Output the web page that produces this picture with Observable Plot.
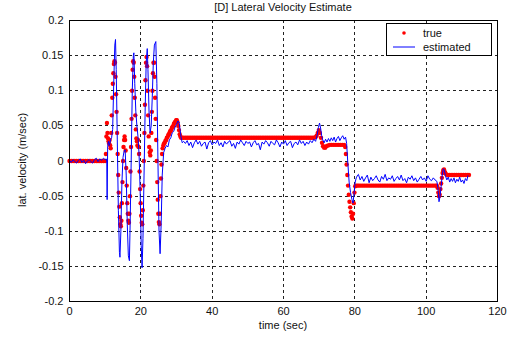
<!DOCTYPE html>
<html>
<head>
<meta charset="utf-8">
<script src="https://cdn.jsdelivr.net/npm/d3@7"></script>
<script src="https://cdn.jsdelivr.net/npm/@observablehq/plot@0.6"></script>
<style>
  html, body { margin: 0; padding: 0; background: #fff; }
  svg { display: block; }
</style>
</head>
<body>
<script>
// ---------- Data ----------
const titleText = "[D] Lateral Velocity Estimate";
const xLabel = "time (sec)";
const yLabel = "lat. velocity (m/sec)";
const xTicks = [0, 20, 40, 60, 80, 100, 120];
const yTicks = [-0.2, -0.15, -0.1, -0.05, 0, 0.05, 0.1, 0.15, 0.2];
const seriesNames = ["true", "estimated"];

// estimated (blue line) : [time, value]
const estQuiet = [[0,0.001],[0.5,-0.002],[1,0.002],[1.5,-0.001],[2,-0.003],[2.5,0.001],[3,0.003],[3.5,-0.002],[4,0.001],[4.5,-0.004],[5,0.0],[5.5,0.002],[6,-0.001],[6.5,-0.003],[7,0.002],[7.5,0.004],[8,-0.001],[8.5,0.003],[9,0.001],[9.5,0.004],[10,0.002],[10.3,0.003]];
const estManeuver = [[10.45,0.0],[10.55,-0.055],[10.7,0.02],[10.9,0.028],[11.2,0.022],[11.5,0.03],[11.8,0.033],[12.1,0.045],[12.4,0.11],[12.7,0.165],[12.9,0.173],[13.1,0.13],[13.4,0.03],[13.7,-0.07],[14.0,-0.13],[14.15,-0.137],[14.4,-0.1],[14.7,-0.03],[15.0,0.005],[15.3,0.014],[15.6,0.016],[15.9,-0.02],[16.2,-0.09],[16.5,-0.135],[16.8,-0.142],[17.0,-0.09],[17.3,0.0],[17.6,0.1],[17.9,0.15],[18.05,0.154],[18.3,0.11],[18.6,0.07],[18.9,0.05],[19.2,0.035],[19.5,0.01],[19.8,-0.04],[20.1,-0.12],[20.35,-0.152],[20.6,-0.11],[20.9,-0.02],[21.2,0.07],[21.5,0.14],[21.8,0.16],[22.0,0.13],[22.3,0.07],[22.6,0.04],[22.9,0.05],[23.2,0.09],[23.5,0.14],[23.8,0.165],[24.2,0.17],[24.5,0.11],[24.8,0.0],[25.1,-0.1],[25.4,-0.132],[25.7,-0.09],[26.0,-0.02],[26.4,0.012],[26.8,0.018],[27.2,0.022],[27.6,0.02],[28.0,0.03],[28.4,0.033],[28.8,0.04],[29.2,0.042],[29.6,0.048],[30.0,0.052],[30.4,0.057],[30.7,0.055],[31.0,0.045],[31.3,0.033],[31.6,0.026],[32.0,0.028]];
const estCruise = [[32.5,0.025],[33,0.029],[33.5,0.022],[34,0.027],[34.5,0.019],[35,0.026],[35.5,0.03],[36,0.024],[36.5,0.028],[37,0.021],[37.5,0.025],[38,0.027],[38.5,0.017],[39,0.026],[39.5,0.029],[40,0.023],[40.5,0.027],[41,0.025],[41.5,0.03],[42,0.022],[42.5,0.026],[43,0.02],[43.5,0.028],[44,0.024],[44.5,0.027],[45,0.029],[45.5,0.021],[46,0.025],[46.5,0.018],[47,0.027],[47.5,0.024],[48,0.03],[48.5,0.026],[49,0.022],[49.5,0.028],[50,0.025],[50.5,0.027],[51,0.02],[51.5,0.026],[52,0.029],[52.5,0.023],[53,0.025],[53.5,0.016],[54,0.027],[54.5,0.024],[55,0.029],[55.5,0.026],[56,0.021],[56.5,0.028],[57,0.025],[57.5,0.023],[58,0.03],[58.5,0.026],[59,0.02],[59.5,0.027],[60,0.024],[60.5,0.029],[61,0.022],[61.5,0.026],[62,0.028],[62.5,0.019],[63,0.025],[63.5,0.027],[64,0.023],[64.5,0.03],[65,0.025],[65.5,0.028],[66,0.022],[66.5,0.027],[67,0.024],[67.5,0.029],[68,0.026],[68.5,0.031],[69,0.028]];
const estStep = [[69.4,0.036],[69.8,0.048],[70.1,0.054],[70.4,0.047],[70.7,0.036],[71.0,0.03],[71.4,0.026],[71.8,0.031],[72.2,0.027],[72.6,0.032],[73.0,0.028],[73.4,0.033],[73.8,0.029],[74.2,0.034],[74.6,0.027],[75.0,0.032],[75.4,0.035],[75.8,0.029],[76.2,0.033],[76.6,0.036],[77.0,0.031],[77.4,0.034],[77.7,0.025],[78.0,0.0],[78.4,-0.03],[78.8,-0.045],[79.2,-0.055],[79.5,-0.06],[79.8,-0.045],[80.1,-0.03],[80.4,-0.024],[80.8,-0.02]];
const estLow = [[81,-0.019],[81.5,-0.027],[82,-0.022],[82.5,-0.029],[83,-0.024],[83.5,-0.02],[84,-0.031],[84.5,-0.023],[85,-0.028],[85.5,-0.025],[86,-0.021],[86.5,-0.027],[87,-0.03],[87.5,-0.022],[88,-0.026],[88.5,-0.019],[89,-0.028],[89.5,-0.024],[90,-0.026],[90.5,-0.021],[91,-0.029],[91.5,-0.025],[92,-0.022],[92.5,-0.027],[93,-0.02],[93.5,-0.028],[94,-0.025],[94.5,-0.031],[95,-0.023],[95.5,-0.026],[96,-0.021],[96.5,-0.028],[97,-0.024],[97.5,-0.03],[98,-0.026],[98.5,-0.022],[99,-0.027],[99.5,-0.024],[100,-0.029],[100.5,-0.021],[101,-0.026],[101.5,-0.028],[102,-0.024],[102.5,-0.027],[103,-0.029]];
const estEnd = [[103.3,-0.038],[103.6,-0.058],[103.9,-0.05],[104.2,-0.036],[104.5,-0.02],[104.8,-0.011],[105.1,-0.013],[105.4,-0.021],[105.8,-0.027],[106.2,-0.023],[106.6,-0.03],[107.0,-0.025],[107.4,-0.029],[107.8,-0.024],[108.2,-0.031],[108.6,-0.026],[109.0,-0.029],[109.4,-0.023],[109.8,-0.03],[110.2,-0.027],[110.6,-0.032],[111.0,-0.025],[111.4,-0.028],[111.7,-0.021]];

// true (red dots) : [time, value]
const trueQuiet = [[0,0],[0.5,0],[1,0],[1.5,0],[2,0],[2.5,0],[3,0],[3.5,0],[4,0],[4.5,0],[5,0],[5.5,0],[6,0],[6.5,0],[7,0],[7.5,0],[8,0],[8.5,0],[9,0],[9.5,0],[10,0]];
const trueManeuver = [[10.2,0.01],[10.35,0.035],[10.5,0.054],[10.65,0.04],[10.8,0.032],[10.95,0.028],[11.1,0.025],[11.25,0.03],[11.4,0.022],[11.55,0.018],[11.7,0.04],[11.85,0.065],[12.0,0.09],[12.15,0.11],[12.3,0.125],[12.45,0.138],[12.6,0.142],[12.75,0.14],[12.9,0.12],[13.05,0.095],[13.2,0.07],[13.35,0.04],[13.5,0.01],[13.65,-0.02],[13.8,-0.045],[13.95,-0.065],[14.1,-0.08],[14.25,-0.09],[14.4,-0.093],[14.55,-0.085],[14.7,-0.06],[14.85,-0.03],[15.0,0.0],[15.15,0.02],[15.3,0.03],[15.45,0.035],[15.6,0.03],[15.75,0.015],[15.9,-0.01],[16.05,-0.035],[16.2,-0.06],[16.35,-0.075],[16.5,-0.085],[16.65,-0.088],[16.8,-0.075],[16.95,-0.05],[17.1,-0.015],[17.25,0.02],[17.4,0.06],[17.55,0.1],[17.7,0.13],[17.85,0.142],[18.0,0.14],[18.15,0.12],[18.3,0.09],[18.45,0.065],[18.6,0.045],[18.75,0.032],[18.9,0.028],[19.05,0.022],[19.2,0.03],[19.35,0.02],[19.5,0.01],[19.65,-0.015],[19.8,-0.04],[19.95,-0.06],[20.1,-0.078],[20.25,-0.088],[20.4,-0.09],[20.55,-0.07],[20.7,-0.035],[20.85,0.0],[21.0,0.04],[21.15,0.08],[21.3,0.115],[21.45,0.14],[21.6,0.148],[21.75,0.135],[21.9,0.1],[22.05,0.065],[22.2,0.035],[22.35,0.02],[22.5,0.012],[22.65,0.008],[22.8,0.015],[22.95,0.04],[23.1,0.07],[23.25,0.1],[23.4,0.125],[23.55,0.14],[23.7,0.14],[23.85,0.12],[24.0,0.09],[24.15,0.06],[24.3,0.03],[24.45,0.0],[24.6,-0.03],[24.75,-0.055],[24.9,-0.075],[25.05,-0.087],[25.2,-0.09],[25.35,-0.075],[25.5,-0.05],[25.65,-0.025],[25.8,-0.005],[25.95,0.01],[26.1,0.018],[26.3,0.022],[26.5,0.025],[26.7,0.026],[26.9,0.029],[27.1,0.03],[27.3,0.033],[27.5,0.034],[27.7,0.037],[27.9,0.038],[28.1,0.041],[28.3,0.043],[28.5,0.044],[28.7,0.047],[28.9,0.049],[29.1,0.05],[29.3,0.053],[29.5,0.055],[29.7,0.056],[29.9,0.058],[30.1,0.058],[30.3,0.055],[30.5,0.05],[30.7,0.044],[30.9,0.038],[31.1,0.035],[31.3,0.033],[31.5,0.033]];
const trueCruise = [[32,0.033],[32.5,0.033],[33,0.033],[33.5,0.033],[34,0.033],[34.5,0.033],[35,0.033],[35.5,0.033],[36,0.033],[36.5,0.033],[37,0.033],[37.5,0.033],[38,0.033],[38.5,0.033],[39,0.033],[39.5,0.033],[40,0.033],[40.5,0.033],[41,0.033],[41.5,0.033],[42,0.033],[42.5,0.033],[43,0.033],[43.5,0.033],[44,0.033],[44.5,0.033],[45,0.033],[45.5,0.033],[46,0.033],[46.5,0.033],[47,0.033],[47.5,0.033],[48,0.033],[48.5,0.033],[49,0.033],[49.5,0.033],[50,0.033],[50.5,0.033],[51,0.033],[51.5,0.033],[52,0.033],[52.5,0.033],[53,0.033],[53.5,0.033],[54,0.033],[54.5,0.033],[55,0.033],[55.5,0.033],[56,0.033],[56.5,0.033],[57,0.033],[57.5,0.033],[58,0.033],[58.5,0.033],[59,0.033],[59.5,0.033],[60,0.033],[60.5,0.033],[61,0.033],[61.5,0.033],[62,0.033],[62.5,0.033],[63,0.033],[63.5,0.033],[64,0.033],[64.5,0.033],[65,0.033],[65.5,0.033],[66,0.033],[66.5,0.033],[67,0.033],[67.5,0.033],[68,0.033],[68.5,0.033],[69,0.034]];
const trueStep = [[69.3,0.036],[69.6,0.04],[69.9,0.044],[70.2,0.04],[70.5,0.033],[70.8,0.026],[71.1,0.021],[71.4,0.019],[71.7,0.019],[72.0,0.021],[72.5,0.022],[73,0.023],[73.5,0.023],[74,0.023],[74.5,0.023],[75,0.023],[75.5,0.023],[76,0.023],[76.5,0.023],[77,0.023],[77.3,0.02],[77.5,0.01],[77.7,-0.005],[77.9,-0.02],[78.1,-0.035],[78.3,-0.048],[78.5,-0.058],[78.7,-0.066],[78.9,-0.073],[79.1,-0.079],[79.3,-0.082],[79.5,-0.075],[79.7,-0.06],[79.9,-0.045],[80.1,-0.036],[80.4,-0.035]];
const trueLow = [[80.8,-0.035],[81.2,-0.035],[81.7,-0.035],[82.2,-0.035],[82.7,-0.035],[83.2,-0.035],[83.7,-0.035],[84.2,-0.035],[84.7,-0.035],[85.2,-0.035],[85.7,-0.035],[86.2,-0.035],[86.7,-0.035],[87.2,-0.035],[87.7,-0.035],[88.2,-0.035],[88.7,-0.035],[89.2,-0.035],[89.7,-0.035],[90.2,-0.035],[90.7,-0.035],[91.2,-0.035],[91.7,-0.035],[92.2,-0.035],[92.7,-0.035],[93.2,-0.035],[93.7,-0.035],[94.2,-0.035],[94.7,-0.035],[95.2,-0.035],[95.7,-0.035],[96.2,-0.035],[96.7,-0.035],[97.2,-0.035],[97.7,-0.035],[98.2,-0.035],[98.7,-0.035],[99.2,-0.035],[99.7,-0.035],[100.2,-0.035],[100.7,-0.035],[101.2,-0.035],[101.7,-0.035],[102.2,-0.035],[102.7,-0.035],[103,-0.035]];
const trueEnd = [[103.2,-0.038],[103.4,-0.045],[103.6,-0.05],[103.8,-0.048],[104.0,-0.04],[104.2,-0.032],[104.4,-0.024],[104.6,-0.017],[104.8,-0.013],[105.0,-0.012],[105.3,-0.016],[105.6,-0.019],[106,-0.02],[106.5,-0.02],[107,-0.02],[107.5,-0.02],[108,-0.02],[108.5,-0.02],[109,-0.02],[109.5,-0.02],[110,-0.02],[110.5,-0.02],[111,-0.02],[111.5,-0.02],[112,-0.02]];

// ---------- Build tables ----------
const toRows = (arr) => arr.map(([t, v]) => ({t, v}));
const estimated = toRows([...estQuiet, ...estManeuver, ...estCruise, ...estStep, ...estLow, ...estEnd]);
const truth = toRows([...trueQuiet, ...trueManeuver, ...trueCruise, ...trueStep, ...trueLow, ...trueEnd]);

const font = "'Liberation Sans', Arial, Helvetica, sans-serif";
const fmtY = d => String(+d.toFixed(2));

const chart = Plot.plot({
  width: 507,
  height: 339,
  marginLeft: 69,
  marginRight: 10,
  marginTop: 20,
  marginBottom: 38,
  style: {fontFamily: font, fontSize: "11px", color: "#111", background: "#fff"},
  x: {domain: [0, 120], ticks: xTicks, label: null},
  y: {domain: [-0.2, 0.2], ticks: yTicks, label: null, tickFormat: fmtY},
  marks: [
    Plot.gridX(xTicks, {stroke: "#222", strokeOpacity: 1, strokeDasharray: "3,3", shapeRendering: "crispEdges"}),
    Plot.gridY(yTicks, {stroke: "#222", strokeOpacity: 1, strokeDasharray: "3,3", shapeRendering: "crispEdges"}),
    Plot.dot(truth, {x: "t", y: "v", r: 2.2, fill: "#ff0000", stroke: "none"}),
    Plot.line(estimated, {x: "t", y: "v", stroke: "#0000ff", strokeWidth: 1}),
    Plot.frame({stroke: "#000", shapeRendering: "crispEdges"}),
    Plot.axisX(xTicks, {tickSize: 0, tickPadding: 6, fontSize: 11}),
    Plot.axisY(yTicks, {tickSize: 0, tickPadding: 6, tickFormat: fmtY, fontSize: 11})
  ]
});
document.body.appendChild(chart);

// ---------- Title, axis labels and legend (text) ----------
const svg = d3.select(chart);
svg.append("text")
  .attr("x", 283).attr("y", 11)
  .attr("text-anchor", "middle")
  .attr("font-family", font).attr("font-size", 11).attr("fill", "#111")
  .text(titleText);
svg.append("text")
  .attr("x", 283).attr("y", 329)
  .attr("text-anchor", "middle")
  .attr("font-family", font).attr("font-size", 11).attr("fill", "#111")
  .text(xLabel);
svg.append("text")
  .attr("transform", "translate(26,160) rotate(-90)")
  .attr("text-anchor", "middle")
  .attr("font-family", font).attr("font-size", 11).attr("fill", "#111")
  .text(yLabel);

const lg = svg.append("g").attr("text-anchor", "start");
lg.append("rect").attr("x", 386.5).attr("y", 23.5).attr("width", 105).attr("height", 32)
  .attr("fill", "#fff").attr("stroke", "#000").attr("shape-rendering", "crispEdges");
lg.append("circle").attr("cx", 404).attr("cy", 33).attr("r", 1.8).attr("fill", "#ff0000");
lg.append("line").attr("x1", 393).attr("x2", 415).attr("y1", 47).attr("y2", 47)
  .attr("stroke", "#0000ff").attr("stroke-width", 1);
lg.append("text").attr("x", 423).attr("y", 37).attr("text-anchor", "start")
  .attr("font-family", font).attr("font-size", 11).attr("fill", "#111").text(seriesNames[0]);
lg.append("text").attr("x", 423).attr("y", 51).attr("text-anchor", "start")
  .attr("font-family", font).attr("font-size", 11).attr("fill", "#111").text(seriesNames[1]);
</script>
</body>
</html>
